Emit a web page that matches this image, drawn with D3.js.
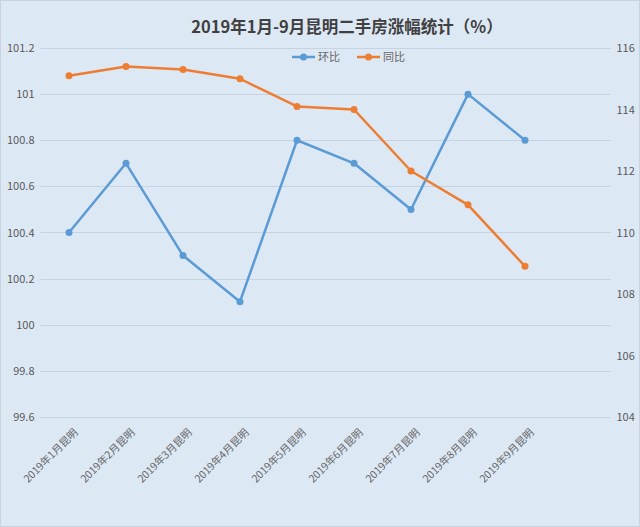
<!DOCTYPE html>
<html><head><meta charset="utf-8">
<script src="https://cdn.jsdelivr.net/npm/d3@7/dist/d3.min.js"></script>
<style>html,body{margin:0;padding:0;background:#fff;}svg{display:block;}</style>
</head><body>
<script>
const categories = ["2019年1月昆明","2019年2月昆明","2019年3月昆明","2019年4月昆明","2019年5月昆明","2019年6月昆明","2019年7月昆明","2019年8月昆明","2019年9月昆明"];
const huanbi = [100.4, 100.7, 100.3, 100.1, 100.8, 100.7, 100.5, 101.0, 100.8];
const tongbi = [115.1, 115.4, 115.3, 115.0, 114.1, 114.0, 112.0, 110.9, 108.9];
const leftTicks = [99.6, 99.8, 100, 100.2, 100.4, 100.6, 100.8, 101, 101.2];
const rightTicks = [104, 106, 108, 110, 112, 114, 116];
const seriesNames = ["环比", "同比"];
const colors = ["#5b9bd5", "#ed7d31"];

const W = 640, H = 527;
const svg = d3.select("body").append("svg").attr("width", W).attr("height", H);
svg.append("rect").attr("x",0.5).attr("y",0.5).attr("width",W-1).attr("height",H-1)
  .attr("fill","#dde8f5").attr("stroke","#c8d3df");

const plotL = 40.5, plotR = 610.5, plotT = 48, plotB = 417;
const step = (plotR - plotL) / 10;
const x = d3.scalePoint().domain(categories).range([plotL + step/2, plotL + step/2 + step*8]);
const yL = d3.scaleLinear().domain([99.6, 101.2]).range([plotB, plotT]);
const yR = d3.scaleLinear().domain([104, 116]).range([plotB, plotT]);

const font = "'Noto Sans CJK SC', 'Microsoft YaHei', sans-serif";

// gridlines
svg.append("g").selectAll("line").data(leftTicks).join("line")
  .attr("x1", plotL).attr("x2", plotR)
  .attr("y1", d => Math.round(yL(d)) + 0.5).attr("y2", d => Math.round(yL(d)) + 0.5)
  .attr("stroke", "#c6d3e2").attr("stroke-width", 1);

// left axis
const gL = svg.append("g").attr("transform", `translate(${plotL},0)`)
  .call(d3.axisLeft(yL).tickValues(leftTicks).tickSize(0).tickPadding(6).tickFormat(d => String(d)));
gL.select(".domain").remove();
gL.selectAll("text").attr("fill", "#595959").style("font-size", "11px").style("font-family", font);

// right axis
const gR = svg.append("g").attr("transform", `translate(${plotR},0)`)
  .call(d3.axisRight(yR).tickValues(rightTicks).tickSize(0).tickPadding(6).tickFormat(d => String(d)));
gR.select(".domain").remove();
gR.selectAll("text").attr("fill", "#595959").style("font-size", "11px").style("font-family", font);

// x axis labels
const gX = svg.append("g").attr("transform", `translate(0,${plotB})`)
  .call(d3.axisBottom(x).tickSize(0).tickPadding(0));
gX.select(".domain").remove();
gX.selectAll("text")
  .attr("fill", "#666666").style("font-size", "10.5px").style("font-family", font)
  .attr("text-anchor", "end")
  .attr("dy", "0")
  .attr("transform", "translate(9,16) rotate(-45)");

// lines
const lineL = d3.line().x((d, i) => x(categories[i])).y(d => yL(d));
const lineR = d3.line().x((d, i) => x(categories[i])).y(d => yR(d));
const data = [{v: huanbi, line: lineL, y: yL}, {v: tongbi, line: lineR, y: yR}];
data.forEach((s, k) => {
  svg.append("path").attr("d", s.line(s.v)).attr("fill", "none")
    .attr("stroke", colors[k]).attr("stroke-width", 2.5).attr("stroke-linejoin", "round");
  svg.append("g").selectAll("circle").data(s.v).join("circle")
    .attr("cx", (d, i) => x(categories[i])).attr("cy", d => s.y(d)).attr("r", 3.5)
    .attr("fill", colors[k]);
});

// title
svg.append("text").attr("x", 347).attr("y", 33).attr("text-anchor", "middle")
  .attr("fill", "#404040").style("font-size", "16.5px").style("font-weight", "bold")
  .style("font-family", font).text("2019年1月-9月昆明二手房涨幅统计（%）");

// legend
const legX = [292, 357];
seriesNames.forEach((n, k) => {
  const g = svg.append("g").attr("transform", `translate(${legX[k]},57)`);
  g.append("line").attr("x1", 0).attr("x2", 23).attr("y1", 0).attr("y2", 0)
    .attr("stroke", colors[k]).attr("stroke-width", 2.5);
  g.append("circle").attr("cx", 11.5).attr("cy", 0).attr("r", 3.5).attr("fill", colors[k]);
  g.append("text").attr("x", 26).attr("y", 4).attr("fill", "#666666")
    .style("font-size", "11px").style("font-family", font).text(n);
});
</script>
</body></html>
